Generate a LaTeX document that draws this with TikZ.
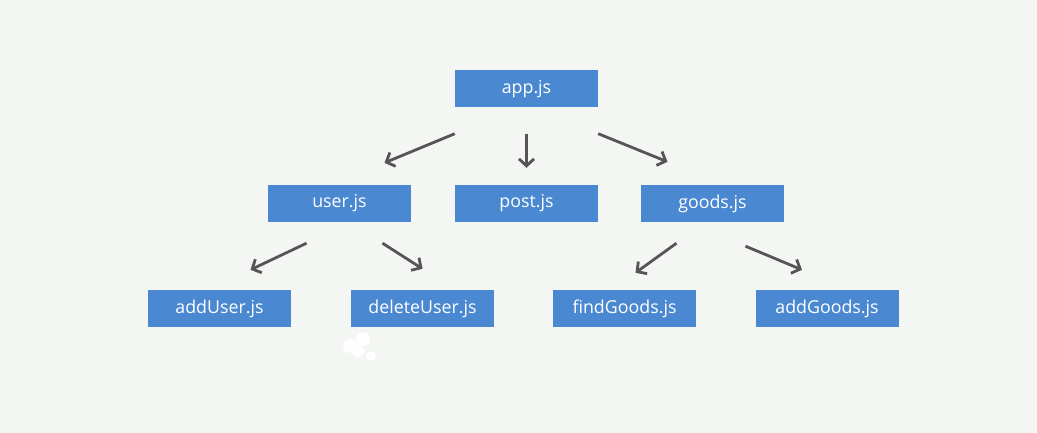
\documentclass[tikz,border=0pt]{standalone}
\usepackage{fontspec}
\setmainfont{Open Sans}
\usetikzlibrary{arrows.meta,calc}
\definecolor{bgpaper}{HTML}{F4F6F3}
\definecolor{boxblue}{HTML}{4A88D1}
\definecolor{arrowgray}{HTML}{555555}
\begin{document}
\begin{tikzpicture}[x=1pt,y=-1pt,
    file/.style={fill=boxblue,text=white,minimum width=143pt,minimum height=37pt,
      inner sep=0pt,font=\fontsize{17.8}{17.8}\selectfont},
    link/.style={draw=arrowgray,line width=2.8pt,-{Straight Barb[length=7pt,width=15pt]}}]
  \fill[bgpaper] (0,0) rectangle (1037,433);
  \useasboundingbox (0,0) rectangle (1037,433);
  % modules
  \node[file] (app) at (526.5,89) {app.js};
  \node[file] (user) at (339.5,203.5) {user.js};
  \node[file] (post) at (526.5,203.5) {post.js};
  \node[file] (goods) at (712.5,203.5) {goods.js};
  \node[file] (addUser) at (219.5,308.5) {addUser.js};
  \node[file] (deleteUser) at (422.5,308.5) {deleteUser.js};
  \node[file] (findGoods) at (624.5,308.5) {findGoods.js};
  \node[file] (addGoods) at (827,308.5) {addGoods.js};
  % arrow ends
  \coordinate (appL) at ($(app.south west)+(0,26)$);
  \coordinate (appM) at ($(app.south)+(0,26)$);
  \coordinate (appR) at ($(app.south east)+(0,26)$);
  \coordinate (userIn) at ($(user.north)+(45,-22)$);
  \coordinate (postIn) at ($(post.north)+(0,-17)$);
  \coordinate (goodsIn) at ($(goods.north)+(-45,-23)$);
  \coordinate (userL) at ($(user.south)+(-33,21)$);
  \coordinate (userR) at ($(user.south)+(43,21)$);
  \coordinate (goodsL) at ($(goods.south)+(-36,21)$);
  \coordinate (goodsR) at ($(goods.south)+(33,24)$);
  \coordinate (addUserIn) at ($(addUser.north)+(31,-20)$);
  \coordinate (deleteUserIn) at ($(deleteUser.north)+(0,-21)$);
  \coordinate (findGoodsIn) at ($(findGoods.north)+(11,-17)$);
  \coordinate (addGoodsIn) at ($(addGoods.north)+(-25,-20)$);
  % links
  \draw[link] (appL) -- (userIn);
  \draw[link] (appM) -- (postIn);
  \draw[link] (appR) -- (goodsIn);
  \draw[link] (userL) -- (addUserIn);
  \draw[link] (userR) -- (deleteUserIn);
  \draw[link] (goodsL) -- (findGoodsIn);
  \draw[link] (goodsR) -- (addGoodsIn);
  % white smudge
  \fill[white] (350,346) circle (7) (363,339) circle (7) (358,351) circle (6) (371,356) circle (5);
\end{tikzpicture}
\end{document}
